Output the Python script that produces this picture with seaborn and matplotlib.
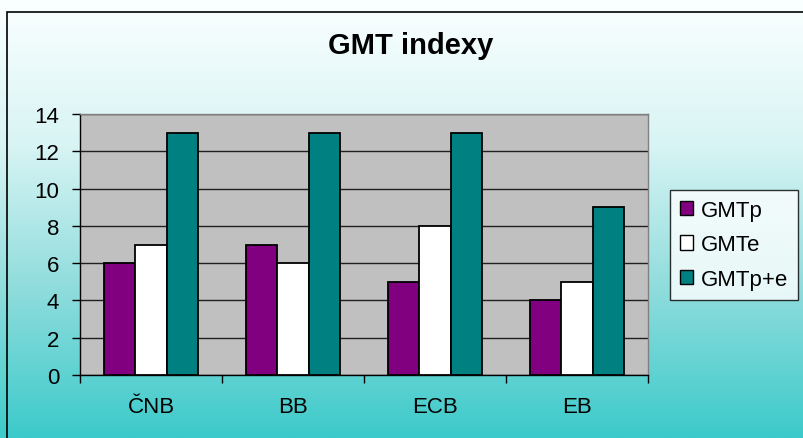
import numpy as np
import pandas as pd
import seaborn as sns
import matplotlib.pyplot as plt
from matplotlib.patches import Rectangle, Patch
from matplotlib.colors import LinearSegmentedColormap

# GMT indexy - grouped bars

banks = ["ČNB", "BB", "ECB", "EB"]
series = ["GMTp", "GMTe", "GMTp+e"]
gmt_p = [6, 7, 5, 4]
gmt_e = [7, 6, 8, 5]
gmt_pe = [13, 13, 13, 9]
colors = ["#800080", "#ffffff", "#008080"]

df = pd.DataFrame({
    "bank": banks * 3,
    "series": [s for s in series for _ in banks],
    "value": gmt_p + gmt_e + gmt_pe,
})

sns.set_style("white")
plt.rcParams["font.family"] = ["Liberation Sans", "DejaVu Sans"]
plt.rcParams["text.color"] = "black"
plt.rcParams["xtick.color"] = "black"
plt.rcParams["ytick.color"] = "black"

fig = plt.figure(figsize=(8.04, 4.39), dpi=100)

# gradient background
bg = fig.add_axes([0, 0, 1, 1], zorder=-2)
grad_cmap = LinearSegmentedColormap.from_list(
    "bg", ["#fbffff", "#d8f4f4", "#8edcdc", "#3ccaca"])
bg.imshow(np.linspace(0, 1, 256).reshape(-1, 1), aspect="auto", cmap=grad_cmap,
          extent=[0, 1, 0, 1], origin="upper")
bg.set_xlim(0, 1)
bg.set_ylim(0, 1)
bg.axis("off")
bg.add_patch(Rectangle((7 / 804, -0.01), 1.0, 1 - 13 / 439 + 0.01,
                       fill=False, edgecolor="black", linewidth=1.2))

ax = fig.add_axes([80 / 804, 1 - 376 / 439, 568 / 804, 261 / 439])
ax.set_facecolor("#c0c0c0")

sns.barplot(data=df, x="bank", y="value", hue="series", palette=colors,
            saturation=1, width=0.66, gap=0, edgecolor="black", linewidth=1.3,
            ax=ax, legend=False, zorder=3)

ax.set_ylim(0, 14)
ax.set_xlim(-0.5, 3.5)
ax.set_yticks(range(0, 15, 2))
ax.yaxis.grid(True, color="#202020", linewidth=1.0, zorder=1)
ax.set_axisbelow(True)
ax.set_xlabel("")
ax.set_ylabel("")
ax.set_title("")

ax.tick_params(axis="y", length=6, width=1, direction="out", left=True,
               labelsize=16, pad=9)
ax.tick_params(axis="x", which="major", length=0, labelsize=16, pad=15)
ax.set_xticks([-0.5, 0.5, 1.5, 2.5, 3.5], minor=True)
ax.tick_params(axis="x", which="minor", length=6, width=1, direction="out",
               bottom=True)

for side in ["top", "right"]:
    ax.spines[side].set_color("#808080")
    ax.spines[side].set_linewidth(1.0)
for side in ["left", "bottom"]:
    ax.spines[side].set_color("black")
    ax.spines[side].set_linewidth(1.0)

fig.text(411 / 804, 1 - 46 / 439, "GMT indexy", ha="center", va="center",
         fontsize=21, fontweight="bold")

handles = [Patch(facecolor=c, edgecolor="black", linewidth=1.0) for c in colors]
leg = fig.legend(handles, series, loc="upper left",
                 bbox_to_anchor=(670 / 804, 1 - 191 / 439),
                 frameon=True, fancybox=False, fontsize=16,
                 handlelength=0.6, handleheight=0.6, handletextpad=0.35,
                 labelspacing=0.6, borderpad=0.45, borderaxespad=0)
leg.get_frame().set_edgecolor("black")
leg.get_frame().set_facecolor("white")
leg.get_frame().set_linewidth(1.0)

fig.savefig("out.png", dpi=100)
